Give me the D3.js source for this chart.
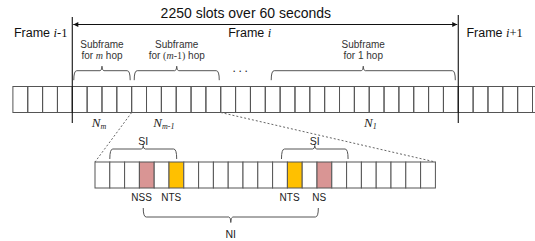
<!DOCTYPE html>
<html>
<head>
<meta charset="utf-8">
<script src="https://cdn.jsdelivr.net/npm/d3@7"></script>
<style>
  body { margin: 0; background: #fff; }
  svg { display: block; font-family: "Liberation Sans", Arial, sans-serif; }
</style>
</head>
<body>
<script>
'use strict';

// top strip: slot indices and frame edges (in slots)
const topSlots = d3.range(36);
const frameEdges = [4, 30];
const frameNames = [["Frame ", "i", "-1"], ["Frame ", "i", ""], ["Frame ", "i", "+1"]];
const frameNameAt = [0.07, 14.5, 30.55];
const titleText = "2250 slots over 60 seconds";
const titleAt = 15.69;

// subframes (slot spans) and their hop labels
const subframeSpans = [[4.1, 7.9], [8.17, 13.9], [17.4, 29.8]];
const subframeHops = [
  [["for ", 0], ["m", 1], [" hop", 0]],
  [["for ", 0], ["(", 2], ["m", 1], ["-1)", 2], [" hop", 0]],
  [["for 1 hop", 0]]
];
const slotCountSubs = ["m", "m-1", "1"];
const slotCountAt = [5.31, 9.46, 23.65];
const ellipsisAt = 15.4;

// zoomed part: top slots 8..14 expand into the bottom strip
const zoomRange = [8, 14];
const bottomSlots = d3.range(23);
const markedSlots = [3, 5, 13, 15];
const markedKinds = ["NSS", "NTS", "NTS", "NS"];
const kindColors = { NSS: "#d99594", NS: "#d99594", NTS: "#ffc000" };
const siSpans = [[1.0, 5.52], [12.6, 17.1]];
const niSpan = [3.26, 15.09];

(function () {
  const width = 535, height = 241;
  const svg = d3.select('body').append('svg')
    .attr('width', width)
    .attr('height', height);

  const xTop = d3.scaleLinear().domain([0, 35]).range([12.9, 532.5]);
  const xBot = d3.scaleLinear().domain([0, 23]).range([95, 435.4]);
  const topY = 86.5, botY = 162, cellH = 26;

  // curly brace: dir = 1 -> ends down, tip up; dir = -1 -> ends up, tip down
  function brace(x0, x1, y, h, t, dir) {
    const tip = (x0 + x1) / 2, r = 3;
    return 'M' + x0 + ',' + (y + dir * h) +
      'Q' + x0 + ',' + y + ',' + (x0 + r) + ',' + y +
      'H' + (tip - 2) +
      'Q' + tip + ',' + y + ',' + tip + ',' + (y - dir * t) +
      'Q' + tip + ',' + y + ',' + (tip + 2) + ',' + y +
      'H' + (x1 - r) +
      'Q' + x1 + ',' + y + ',' + x1 + ',' + (y + dir * h);
  }

  // rich text: 0 sans, 1 serif italic, 2 serif upright
  function rich(text, parts) {
    parts.forEach(p => {
      const ts = text.append('tspan').text(p[0]);
      if (p[1] === 1) ts.style('font-family', '"Liberation Serif", serif').style('font-style', 'italic');
      if (p[1] === 2) ts.style('font-family', '"Liberation Serif", serif');
    });
  }

  // --- top strip cells
  svg.append('g').selectAll('rect')
    .data(topSlots)
    .enter()
    .append('rect')
    .attr('x', d => xTop(d))
    .attr('y', topY)
    .attr('width', xTop(1) - xTop(0))
    .attr('height', cellH)
    .attr('fill', 'none')
    .attr('stroke', '#555')
    .attr('stroke-width', 1);

  // frame boundaries
  svg.append('g').selectAll('line')
    .data(frameEdges)
    .enter()
    .append('line')
    .attr('x1', d => xTop(d)).attr('x2', d => xTop(d))
    .attr('y1', d => d === frameEdges[0] ? 17 : 15)
    .attr('y2', 123)
    .attr('stroke', '#111')
    .attr('stroke-width', 1.1);

  // double arrow
  const defs = svg.append('defs');
  defs.append('marker')
    .attr('id', 'ah')
    .attr('viewBox', '0 0 10 10')
    .attr('refX', 10).attr('refY', 5)
    .attr('markerWidth', 6).attr('markerHeight', 5)
    .attr('markerUnits', 'userSpaceOnUse')
    .attr('orient', 'auto-start-reverse')
    .append('path')
    .attr('d', 'M0,0L10,5L0,10Z')
    .attr('fill', '#111');
  svg.append('line')
    .attr('x1', xTop(frameEdges[0]) + 1).attr('x2', xTop(frameEdges[1]) - 1)
    .attr('y1', 24.5).attr('y2', 24.5)
    .attr('stroke', '#111')
    .attr('marker-start', 'url(#ah)')
    .attr('marker-end', 'url(#ah)');

  svg.append('text')
    .attr('x', xTop(titleAt))
    .attr('y', 18.3)
    .attr('text-anchor', 'middle')
    .style('font-size', '14px')
    .attr('fill', '#111')
    .text(titleText);

  // frame labels
  frameNames.forEach((f, k) => {
    const t = svg.append('text')
      .attr('x', xTop(frameNameAt[k]))
      .attr('y', 37.3)
      .style('font-size', '12.5px')
      .attr('fill', '#111');
    rich(t, [[f[0], 0], [f[1], 1], [f[2], 2]]);
  });

  // subframe labels and braces
  subframeSpans.forEach((s, k) => {
    const cx = (xTop(s[0]) + xTop(s[1])) / 2;
    svg.append('text')
      .attr('x', cx).attr('y', 47.5)
      .attr('text-anchor', 'middle')
      .style('font-size', '10px')
      .attr('fill', '#333')
      .text('Subframe');
    const t = svg.append('text')
      .attr('x', cx).attr('y', 59.3)
      .attr('text-anchor', 'middle')
      .style('font-size', '10px')
      .attr('fill', '#333');
    rich(t, subframeHops[k]);
    svg.append('path')
      .attr('d', brace(xTop(s[0]), xTop(s[1]), 70.7, 9.5, 4.5, 1))
      .attr('fill', 'none')
      .attr('stroke', '#555')
      .attr('stroke-width', 1);
  });

  svg.append('text')
    .attr('x', xTop(ellipsisAt)).attr('y', 71.5)
    .attr('text-anchor', 'middle')
    .style('font-size', '12px')
    .style('letter-spacing', '2.6px')
    .attr('fill', '#222')
    .text('...');

  // N labels under the top strip
  slotCountSubs.forEach((sub, k) => {
    const t = svg.append('text')
      .attr('x', xTop(slotCountAt[k]))
      .attr('y', 126.5)
      .attr('fill', '#222')
      .style('font-family', '"Liberation Serif", serif')
      .style('font-style', 'italic')
      .style('font-size', '13px');
    t.append('tspan').text('N');
    t.append('tspan')
      .attr('dy', 2.5)
      .style('font-size', '8px')
      .text(sub);
  });

  // dashed zoom lines
  const zoomLines = [
    [xTop(zoomRange[0]), xBot(0)],
    [xTop(zoomRange[1]), xBot(bottomSlots.length)]
  ];
  svg.append('g').selectAll('line')
    .data(zoomLines)
    .enter()
    .append('line')
    .attr('x1', d => d[0]).attr('y1', topY + cellH)
    .attr('x2', d => d[1]).attr('y2', botY)
    .attr('stroke', '#666')
    .attr('stroke-dasharray', '2,2');

  // --- bottom strip
  svg.append('g').selectAll('rect')
    .data(bottomSlots)
    .enter()
    .append('rect')
    .attr('x', d => xBot(d))
    .attr('y', botY)
    .attr('width', xBot(1) - xBot(0))
    .attr('height', cellH)
    .attr('fill', d => {
      const i = markedSlots.indexOf(d);
      return i < 0 ? '#fff' : kindColors[markedKinds[i]];
    })
    .attr('stroke', '#555')
    .attr('stroke-width', 1);

  svg.append('g').selectAll('text')
    .data(markedSlots)
    .enter()
    .append('text')
    .attr('x', d => xBot(d + 0.15))
    .attr('y', 201)
    .attr('text-anchor', 'middle')
    .style('font-size', '10px')
    .attr('fill', '#222')
    .text((d, i) => markedKinds[i]);

  // SI braces
  siSpans.forEach(s => {
    const x0 = xBot(s[0]), x1 = xBot(s[1]);
    svg.append('path')
      .attr('d', brace(x0, x1, 149, 10, 3.5, 1))
      .attr('fill', 'none')
      .attr('stroke', '#555');
    svg.append('text')
      .attr('x', (x0 + x1) / 2).attr('y', 145)
      .attr('text-anchor', 'middle')
      .style('font-size', '10.5px')
      .attr('fill', '#222')
      .text('SI');
  });

  // NI brace
  const n0 = xBot(niSpan[0]), n1 = xBot(niSpan[1]);
  svg.append('path')
    .attr('d', brace(n0, n1, 217, 9, 5.5, -1))
    .attr('fill', 'none')
    .attr('stroke', '#555');
  svg.append('text')
    .attr('x', (n0 + n1) / 2).attr('y', 238.3)
    .attr('text-anchor', 'middle')
    .style('font-size', '10.5px')
    .attr('fill', '#222')
    .text('NI');
})();
</script>
</body>
</html>
